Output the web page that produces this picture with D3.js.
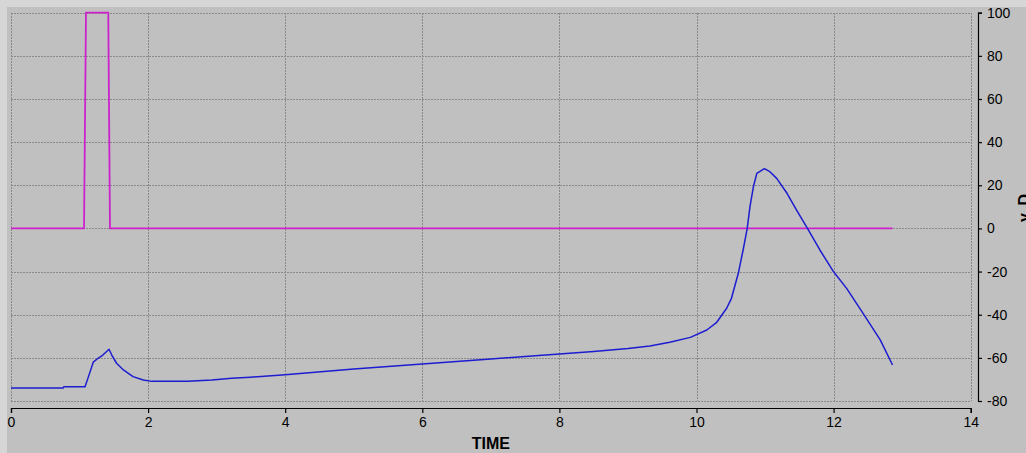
<!DOCTYPE html>
<html>
<head>
<meta charset="utf-8">
<script src="https://cdn.jsdelivr.net/npm/d3@7"></script>
<style>
  html, body { margin: 0; padding: 0; background: #c0c0c0; overflow: hidden; }
  svg { display: block; }
</style>
</head>
<body>
<svg id="chart" width="1026" height="453"></svg>
<script>
// Simulation trace: input pulse u and response y over TIME
const pulseTime  = [0, 1.065, 1.094, 1.419, 1.444, 12.86];
const pulseValue = [0, 0, 100, 100, 0, 0];

const respTime = [0, 0.76, 0.77, 1.08, 1.13, 1.20, 1.27, 1.34, 1.43, 1.47, 1.54, 1.64, 1.78, 1.93,
  2.05, 2.58, 2.93, 3.22, 3.49, 4.0, 5.0, 6.0, 7.0, 8.0, 8.5, 9.0, 9.32, 9.61, 9.91, 10.15,
  10.29, 10.44, 10.51, 10.61, 10.68, 10.74, 10.78, 10.83, 10.88, 10.99, 11.07, 11.17, 11.32,
  11.46, 11.61, 11.80, 12.0, 12.19, 12.43, 12.68, 12.86];
const respValue = [-74, -74, -73.4, -73.4, -68.7, -62, -60.2, -58.7, -56, -58.7, -62.5, -65.6, -68.7, -70.3,
  -70.9, -70.9, -70.3, -69.5, -69, -67.8, -65.2, -62.8, -60.5, -58.2, -57, -55.7, -54.5, -52.8, -50.5, -47.1,
  -43.7, -37.0, -32.4, -20.8, -10.0, 0, 10.1, 19.3, 25.5, 27.7, 26.3, 23.2, 16.3,
  8.5, 0.5, -10.0, -20.1, -27.8, -39.4, -51.7, -63.3];

const xTicks = [0, 2, 4, 6, 8, 10, 12, 14];
const yTicks = [-80, -60, -40, -20, 0, 20, 40, 60, 80, 100];
const xTitle = "TIME";
const yTitle = "y, D";

const svg = d3.select("#chart");
const W = 1026, H = 453;

// window frame highlight (top and left)
svg.append("rect").attr("x", 0).attr("y", 0).attr("width", W).attr("height", H).attr("fill", "#c0c0c0");
svg.append("rect").attr("x", 0).attr("y", 0).attr("width", W).attr("height", 7).attr("fill", "#d6d6d6");
svg.append("rect").attr("x", 0).attr("y", 0).attr("width", 7).attr("height", H).attr("fill", "#d6d6d6");

const x = d3.scaleLinear().domain([0, 14]).range([11, 970.7]);
const y = d3.scaleLinear().domain([-80, 100]).range([401, 12.7]);

// dotted grid
const grid = svg.append("g").attr("stroke", "#8a8a8a").attr("stroke-width", 1)
  .attr("stroke-dasharray", "2,1").attr("shape-rendering", "crispEdges");
grid.selectAll("line.v").data(xTicks).join("line").attr("class", "v")
  .attr("x1", d => Math.round(x(d)) + 0.5).attr("x2", d => Math.round(x(d)) + 0.5)
  .attr("y1", y(100)).attr("y2", y(-80));
grid.selectAll("line.h").data(yTicks).join("line").attr("class", "h")
  .attr("y1", d => Math.round(y(d)) + 0.5).attr("y2", d => Math.round(y(d)) + 0.5)
  .attr("x1", x(0)).attr("x2", x(14));

// bottom axis
const xAxis = d3.axisBottom(x).tickValues(xTicks).tickFormat(d => String(d))
  .tickSizeInner(5).tickSizeOuter(5).tickPadding(4);
const gx = svg.append("g").attr("transform", "translate(0,408)").call(xAxis);
gx.select(".domain").attr("stroke", "#000").attr("stroke-width", 1.2);
gx.selectAll(".tick line").attr("stroke", "#000").attr("stroke-width", 1.2);
gx.selectAll(".tick text").attr("font-family", "'Liberation Sans', Arial, sans-serif")
  .attr("font-size", 14).attr("fill", "#000");

// right axis
const yAxis = d3.axisRight(y).tickValues(yTicks).tickFormat(d => String(d))
  .tickSizeInner(4).tickSizeOuter(4).tickPadding(5);
const gy = svg.append("g").attr("transform", "translate(978,0)").call(yAxis);
gy.select(".domain").attr("stroke", "#000").attr("stroke-width", 1.2);
gy.selectAll(".tick line").attr("stroke", "#000").attr("stroke-width", 1.2);
gy.selectAll(".tick text").attr("font-family", "'Liberation Sans', Arial, sans-serif")
  .attr("font-size", 14).attr("fill", "#000");

// axis titles
svg.append("text").attr("x", x(7)).attr("y", 449).attr("text-anchor", "middle")
  .attr("font-family", "'Liberation Sans', Arial, sans-serif").attr("font-weight", "bold")
  .attr("font-size", 16).attr("fill", "#000").text(xTitle);
svg.append("text").attr("transform", "translate(1030,208) rotate(-90)").attr("text-anchor", "middle")
  .attr("font-family", "'Liberation Sans', Arial, sans-serif").attr("font-weight", "bold")
  .attr("font-size", 16).attr("fill", "#000").text(yTitle);

// series
const line = d3.line().x(d => x(d[0])).y(d => y(d[1]));
svg.append("path").datum(pulseTime.map((t, i) => [t, pulseValue[i]]))
  .attr("d", line).attr("fill", "none").attr("stroke", "#cc22cc").attr("stroke-width", 1.8);
svg.append("path").datum(respTime.map((t, i) => [t, respValue[i]]))
  .attr("d", line).attr("fill", "none").attr("stroke", "#1c1cd0").attr("stroke-width", 1.5)
  .attr("stroke-linejoin", "round");
</script>
</body>
</html>
